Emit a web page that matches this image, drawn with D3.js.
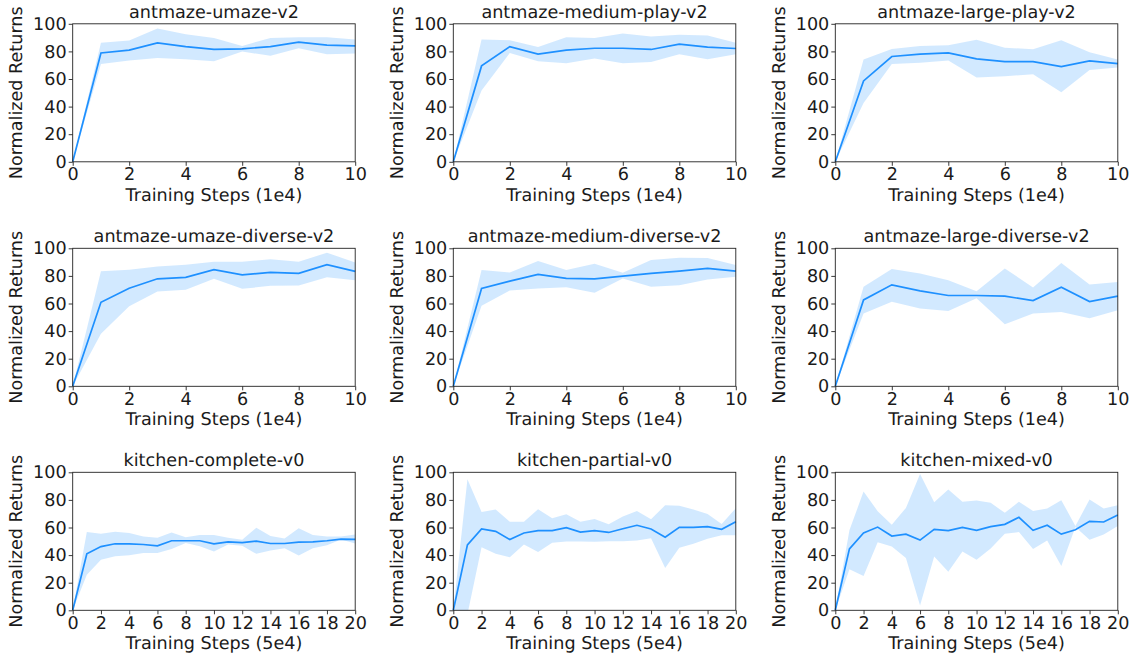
<!DOCTYPE html>
<html lang="en">

<head>
    <meta charset="utf-8">
    <title>Normalized returns</title>
    <script src="https://d3js.org/d3.v7.min.js"></script>
    <style>
        body { margin: 0; background: #fff; }
        text { font-family: "DejaVu Sans", sans-serif; font-weight: normal; text-rendering: geometricPrecision; }
    </style>
</head>

<body>
    <script type="text/javascript">

        var w = 1135;
        var h = 661;

        // titles and x ticks
        var titles = ["antmaze-umaze-v2", "antmaze-medium-play-v2", "antmaze-large-play-v2",
                      "antmaze-umaze-diverse-v2", "antmaze-medium-diverse-v2", "antmaze-large-diverse-v2",
                      "kitchen-complete-v0", "kitchen-partial-v0", "kitchen-mixed-v0"];
        var xLabels = ["Training Steps (1e4)", "Training Steps (5e4)"];
        var yTicks = [0, 20, 40, 60, 80, 100];
        var antTicks = [0, 2, 4, 6, 8, 10];
        var kitchenTicks = [0, 2, 4, 6, 8, 10, 12, 14, 16, 18, 20];

        // antmaze-umaze-v2
        var umazeMean  = [0, 78.9, 80.9, 86.2, 83.5, 81.4, 81.8, 83.5, 86.7, 84.5, 84.0];
        var umazeUpper = [0, 86.2, 87.9, 96.6, 92.5, 89.8, 84.0, 89.8, 90.3, 90.3, 88.6];
        var umazeLower = [0, 70.9, 73.4, 75.3, 74.3, 72.9, 79.9, 76.8, 82.3, 78.0, 78.5];

        // antmaze-medium-play-v2
        var medPlayMean  = [0, 69.5, 83.5, 78.0, 80.9, 82.3, 82.3, 81.4, 85.2, 83.1, 82.1];
        var medPlayUpper = [0, 88.6, 88.1, 83.1, 90.3, 89.8, 93.0, 90.8, 92.0, 91.5, 86.2];
        var medPlayLower = [0, 51.6, 78.9, 72.9, 71.4, 74.8, 71.4, 72.4, 78.0, 74.3, 78.0];

        // antmaze-large-play-v2
        var largePlayMean  = [0, 58.6, 76.3, 78.0, 78.9, 74.6, 72.6, 72.6, 69.0, 73.1, 71.2];
        var largePlayUpper = [0, 74.1, 81.8, 84.0, 84.5, 88.4, 82.6, 81.6, 88.1, 79.4, 74.1];
        var largePlayLower = [0, 42.6, 70.9, 71.7, 73.4, 61.0, 62.0, 63.4, 50.4, 66.6, 68.3];

        // antmaze-umaze-diverse-v2
        var umazeDivMean  = [0, 60.9, 71.1, 77.9, 78.9, 84.5, 80.8, 82.5, 81.8, 88.1, 83.3];
        var umazeDivUpper = [0, 83.3, 84.5, 86.9, 88.1, 90.3, 90.3, 92.0, 90.3, 96.8, 89.8];
        var umazeDivLower = [0, 38.1, 58.0, 68.7, 69.9, 77.9, 70.6, 72.8, 73.1, 79.1, 76.9];

        // antmaze-medium-diverse-v2
        var medDivMean  = [0, 70.9, 76.2, 81.1, 78.2, 77.9, 79.9, 81.8, 83.5, 85.4, 83.5];
        var medDivUpper = [0, 84.2, 82.5, 90.8, 84.2, 88.8, 82.3, 91.5, 93.2, 93.0, 87.9];
        var medDivLower = [0, 58.3, 69.4, 70.9, 71.8, 67.7, 78.2, 72.1, 73.3, 77.4, 79.4];

        // antmaze-large-diverse-v2
        var largeDivMean  = [0, 62.6, 73.5, 69.2, 65.8, 65.8, 65.3, 62.1, 71.8, 61.4, 65.3];
        var largeDivUpper = [0, 72.1, 85.0, 81.8, 76.9, 68.9, 85.4, 71.6, 89.3, 73.8, 75.5];
        var largeDivLower = [0, 52.7, 61.2, 56.3, 54.6, 63.8, 44.9, 52.7, 53.9, 49.3, 55.1];

        // kitchen-complete-v0
        var completeMean  = [0, 40.9, 46.2, 48.2, 48.2, 47.7, 46.7, 50.4, 50.4, 50.4, 48.2,
                             49.6, 49.1, 50.1, 48.4, 48.4, 49.4, 49.6, 50.4, 51.6, 51.4];
        var completeUpper = [0, 56.7, 55.5, 56.9, 56.0, 53.5, 52.6, 56.4, 53.0, 54.5, 54.5,
                             52.6, 51.1, 59.9, 53.8, 52.1, 59.4, 54.5, 53.5, 53.5, 55.0];
        var completeLower = [0, 25.8, 36.7, 39.2, 39.9, 41.6, 41.6, 44.5, 48.7, 46.5, 42.6,
                             47.7, 46.7, 40.9, 43.3, 45.0, 39.7, 45.0, 47.2, 51.3, 48.4];

        // kitchen-partial-v0
        var partialMean  = [0, 47.4, 58.9, 57.2, 51.3, 56.0, 57.7, 57.7, 59.9, 56.7, 57.7,
                            56.4, 59.1, 61.6, 58.9, 53.0, 60.1, 60.1, 60.6, 58.7, 64.2];
        var partialUpper = [0, 94.9, 71.3, 73.0, 64.2, 64.2, 73.2, 66.7, 69.6, 64.2, 66.2,
                            62.3, 67.9, 72.0, 65.9, 76.2, 75.7, 73.0, 69.8, 62.5, 74.0];
        var partialLower = [0, -3.0, 45.7, 40.9, 38.4, 47.7, 42.3, 48.9, 49.9, 49.9, 49.6,
                            50.1, 50.1, 50.6, 52.3, 30.7, 45.3, 48.2, 51.8, 54.3, 54.3];

        // kitchen-mixed-v0
        var mixedMean  = [0, 44.5, 56.0, 60.3, 53.8, 55.2, 50.9, 58.7, 57.7, 60.1, 57.9,
                          60.6, 62.3, 67.4, 57.9, 61.6, 55.2, 58.4, 64.5, 64.0, 69.1];
        var mixedUpper = [0, 58.0, 86.0, 71.8, 62.0, 74.2, 98.8, 78.3, 87.6, 78.6, 79.6,
                          77.9, 70.6, 78.6, 72.0, 73.7, 79.8, 61.1, 80.3, 73.7, 76.2];
        var mixedLower = [0, 29.7, 24.9, 49.4, 46.2, 37.9, 3.4, 38.9, 28.0, 42.6, 36.7,
                          44.8, 55.5, 56.7, 44.5, 50.6, 32.1, 60.3, 51.1, 55.0, 61.1];

        var panels = [
            [umazeMean, umazeUpper, umazeLower],
            [medPlayMean, medPlayUpper, medPlayLower],
            [largePlayMean, largePlayUpper, largePlayLower],
            [umazeDivMean, umazeDivUpper, umazeDivLower],
            [medDivMean, medDivUpper, medDivLower],
            [largeDivMean, largeDivUpper, largeDivLower],
            [completeMean, completeUpper, completeLower],
            [partialMean, partialUpper, partialLower],
            [mixedMean, mixedUpper, mixedLower]
        ];

        var colLeft = [72.7, 453.3, 835.3];
        var rowTop = [23.8, 248.3, 472.3];
        var pw = 282.5;
        var ph = 138;
        var lineColor = "#1e90ff";
        var textColor = "#1a1a1a";
        var fontSize = "17.6px";

        var svg = d3.select("body")
            .append("svg")
            .attr("width", w)
            .attr("height", h);

        panels.forEach(function (p, i) {
            var row = Math.floor(i / 3);
            var col = i % 3;
            var kitchen = row == 2;
            var xMax = kitchen ? 20 : 10;

            var x = d3.scaleLinear().domain([0, xMax]).range([0, pw]);
            var y = d3.scaleLinear().domain([0, 100]).range([ph, 0]);

            var g = svg.append("g")
                .attr("transform", "translate(" + colLeft[col] + "," + rowTop[row] + ")");

            g.append("clipPath")
                .attr("id", "clip" + i)
                .append("rect")
                .attr("width", pw)
                .attr("height", ph);

            var data = p[0].map(function (d, j) {
                return { step: j, mean: d, upper: p[1][j], lower: p[2][j] };
            });

            var area = d3.area()
                .x(function (d) { return x(d.step); })
                .y0(function (d) { return y(d.lower); })
                .y1(function (d) { return y(d.upper); });

            var line = d3.line()
                .x(function (d) { return x(d.step); })
                .y(function (d) { return y(d.mean); });

            g.append("path")
                .datum(data)
                .attr("clip-path", "url(#clip" + i + ")")
                .attr("fill", lineColor)
                .attr("fill-opacity", 0.2)
                .attr("d", area);

            g.append("path")
                .datum(data)
                .attr("fill", "none")
                .attr("stroke", lineColor)
                .attr("stroke-width", 1.7)
                .attr("d", line);

            var xAxis = g.append("g")
                .attr("transform", "translate(0," + ph + ")")
                .call(d3.axisBottom(x)
                    .tickValues(kitchen ? kitchenTicks : antTicks)
                    .tickSizeInner(4)
                    .tickSizeOuter(0)
                    .tickPadding(2));

            var yAxis = g.append("g")
                .call(d3.axisLeft(y)
                    .tickValues(yTicks)
                    .tickSizeInner(4)
                    .tickSizeOuter(0)
                    .tickPadding(2));

            [xAxis, yAxis].forEach(function (a) {
                a.attr("font-family", null);
                a.selectAll("text").style("font-size", fontSize).attr("fill", textColor);
                a.selectAll("line").attr("stroke", "#222").attr("stroke-width", 0.9);
                a.select(".domain").remove();
            });

            // frame
            g.append("rect")
                .attr("width", pw)
                .attr("height", ph)
                .attr("fill", "none")
                .attr("stroke", "#222")
                .attr("stroke-width", 0.9);

            g.append("text")
                .attr("x", pw / 2)
                .attr("y", -6)
                .attr("text-anchor", "middle")
                .attr("fill", textColor)
                .style("font-size", fontSize)
                .text(titles[i]);

            g.append("text")
                .attr("x", pw / 2)
                .attr("y", ph + 39)
                .attr("text-anchor", "middle")
                .attr("fill", textColor)
                .style("font-size", fontSize)
                .text(xLabels[kitchen ? 1 : 0]);

            // y label sits a fixed distance left of each panel
            g.append("text")
                .attr("transform", "translate(-56.7," + ph / 2 + ") rotate(-90)")
                .attr("text-anchor", "middle")
                .attr("dy", "0.35em")
                .attr("fill", textColor)
                .style("font-size", fontSize)
                .text("Normalized Returns");
        });

    </script>
</body>

</html>
